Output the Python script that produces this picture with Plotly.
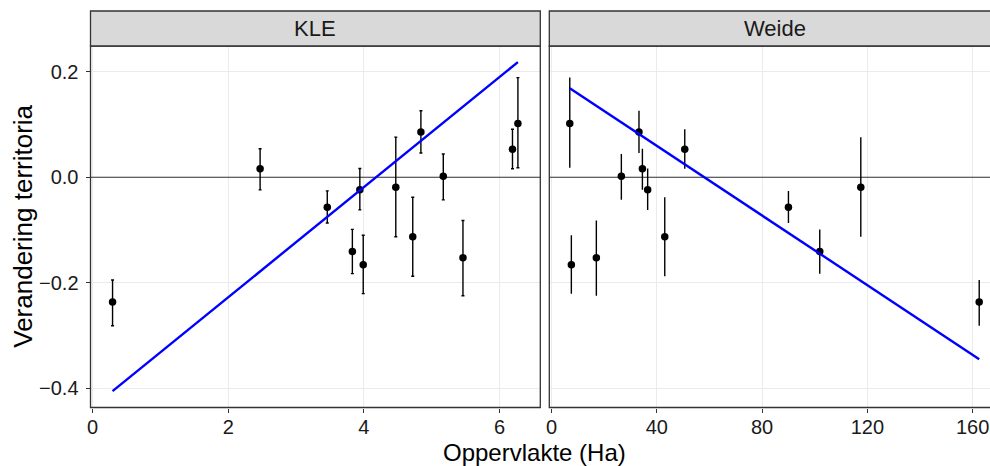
import numpy as np
import plotly.graph_objects as go

# Territory change per site, with its area in two habitat types
area_kle = [0.295, 2.47, 3.46, 3.83, 3.94, 3.99, 4.47, 4.72, 4.84, 5.17, 5.46, 6.19, 6.27]
area_weide = [162.5, 34.5, 90.0, 101.9, 36.5, 7.5, 117.5, 43.0, 33.2, 26.5, 17.0, 50.6, 6.9]
change = [-0.237, 0.016, -0.057, -0.141, -0.024, -0.166, -0.019, -0.113, 0.086, 0.002, -0.153, 0.053, 0.102]
change_lo = [-0.282, -0.024, -0.087, -0.183, -0.062, -0.221, -0.113, -0.188, 0.046, -0.043, -0.225, 0.016, 0.018]
change_hi = [-0.195, 0.054, -0.026, -0.099, 0.0165, -0.110, 0.076, -0.038, 0.126, 0.044, -0.082, 0.091, 0.189]

# Fitted trend (intercept, slope) per panel
fit_kle = [-0.4368, 0.1045]
fit_weide = [0.1915, -0.003303]

x_ticks_kle = [0, 2, 4, 6]
x_ticks_weide = [0, 40, 80, 120, 160]
y_ticks = [-0.4, -0.2, 0.0, 0.2]
y_tick_text = ["\u22120.4", "\u22120.2", "0.0", "0.2"]

W, H = 990, 466
FONT = "Liberation Sans, Arial, sans-serif"
BORDER = "#333333"
GRID = "#EBEBEB"

x_range_kle = [-0.03, 6.6]
x_range_weide = [-0.88, 166.6]
y_range = [-0.437, 0.249]

y = np.array(change)
err_plus = np.array(change_hi) - y
err_minus = y - np.array(change_lo)

fig = go.Figure()


def add_panel(xs, fit, x_range, xa, ya, cap):
    xs = np.array(xs)
    # horizontal reference line at zero across the panel
    fig.add_trace(go.Scatter(
        x=x_range, y=[0, 0], mode="lines", xaxis=xa, yaxis=ya,
        line=dict(color=BORDER, width=1.1), showlegend=False, hoverinfo="skip"))
    fig.add_trace(go.Scatter(
        x=xs, y=y, mode="markers", xaxis=xa, yaxis=ya,
        marker=dict(color="black", size=7.5),
        error_y=dict(type="data", symmetric=False, array=err_plus,
                     arrayminus=err_minus, color="black", thickness=1.4,
                     width=cap),
        showlegend=False, hoverinfo="skip"))
    lx = np.array([xs.min(), xs.max()])
    fig.add_trace(go.Scatter(
        x=lx, y=fit[0] + fit[1] * lx, mode="lines", xaxis=xa, yaxis=ya,
        line=dict(color="#0000FF", width=2.4),
        showlegend=False, hoverinfo="skip"))


add_panel(area_kle, fit_kle, x_range_kle, "x", "y", 1.5)
add_panel(area_weide, fit_weide, x_range_weide, "x2", "y2", 0)

px = lambda v: v / W
py = lambda v: (H - v) / H

dom_y = [py(407.5), py(46)]
dom_x1 = [px(90.5), px(540.3)]
dom_x2 = [px(549.3), 1.0]

tick_font = dict(family=FONT, size=20, color="#1a1a1a")
axis_common = dict(showgrid=True, gridcolor=GRID, gridwidth=1, zeroline=False,
                   ticks="outside", ticklen=4, tickwidth=1, tickcolor=BORDER,
                   showline=False, tickfont=tick_font, automargin=False)

fig.update_layout(
    width=W, height=H,
    margin=dict(l=0, r=0, t=0, b=0),
    paper_bgcolor="white", plot_bgcolor="white",
    xaxis=dict(domain=dom_x1, range=x_range_kle, tickvals=x_ticks_kle,
               anchor="y", ticklabelstandoff=-3, **axis_common),
    yaxis=dict(domain=dom_y, range=y_range, tickvals=y_ticks,
               ticktext=y_tick_text, anchor="x", ticklabelstandoff=3,
               **axis_common),
    xaxis2=dict(domain=dom_x2, range=x_range_weide, tickvals=x_ticks_weide,
                anchor="y2", ticklabelstandoff=-3, **axis_common),
    yaxis2=dict(domain=dom_y, range=y_range, tickvals=y_ticks,
                showticklabels=False, anchor="x2",
                **{k: v for k, v in axis_common.items() if k not in ("ticks",)},
                ticks=""),
)

shapes = []
for xa, ya, right in (("x", "y", 1.0), ("x2", "y2", 1.1)):
    # panel border
    shapes.append(dict(type="rect", xref=f"{xa} domain", yref=f"{ya} domain",
                       x0=0, x1=right, y0=0, y1=1,
                       line=dict(color=BORDER, width=1.3), fillcolor="rgba(0,0,0,0)",
                       layer="above"))
# facet strips
strip_y = [py(46), py(11)]
for dom in (dom_x1, dom_x2):
    x1 = dom[1] if dom[1] < 1 else 1.05
    shapes.append(dict(type="rect", xref="paper", yref="paper",
                       x0=dom[0], x1=x1, y0=strip_y[0], y1=strip_y[1],
                       fillcolor="#D9D9D9", line=dict(color=BORDER, width=1.3)))
fig.update_layout(shapes=shapes)

annotations = [
    dict(text="KLE", x=(dom_x1[0] + dom_x1[1]) / 2, y=sum(strip_y) / 2),
    dict(text="Weide", x=(dom_x2[0] + px(1000)) / 2, y=sum(strip_y) / 2),
]
for a in annotations:
    a.update(xref="paper", yref="paper", showarrow=False,
             xanchor="center", yanchor="middle",
             font=dict(family=FONT, size=22, color="#1a1a1a"))
annotations.append(dict(text="Oppervlakte (Ha)", x=px(534), y=py(452),
                        xref="paper", yref="paper", showarrow=False,
                        xanchor="center", yanchor="middle",
                        font=dict(family=FONT, size=24, color="black")))
annotations.append(dict(text="Verandering territoria", x=px(23), y=py(226.75),
                        xref="paper", yref="paper", showarrow=False,
                        xanchor="center", yanchor="middle", textangle=-90,
                        font=dict(family=FONT, size=26, color="black")))
fig.update_layout(annotations=annotations)

fig.write_html("out.html")
